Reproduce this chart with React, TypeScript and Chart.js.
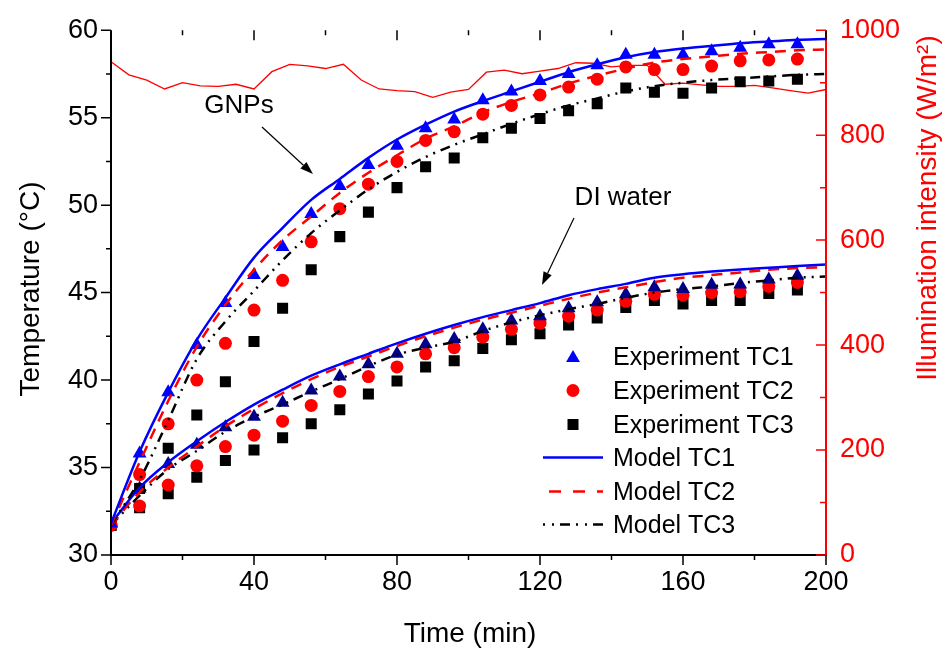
import React, { useEffect, useRef } from 'react';
import { Chart, registerables } from 'chart.js';
Chart.register(...registerables);

const FONT = "'Liberation Sans', Arial, Helvetica, sans-serif";

// ---------- data ----------
const timeExp = [0, 8, 16, 24, 32, 40, 48, 56, 64, 72, 80, 88, 96, 104, 112, 120, 128, 136, 144, 152, 160, 168, 176, 184, 192];

const gnpExpTC1 = [31.8, 35.8, 39.3, 42.0, 44.4, 46.0, 47.6, 49.5, 51.1, 52.3, 53.4, 54.4, 54.9, 56.0, 56.5, 57.1, 57.5, 58.0, 58.6, 58.6, 58.6, 58.8, 59.0, 59.2, 59.2];
const gnpExpTC2 = [31.7, 34.6, 37.5, 40.0, 42.1, 44.0, 45.7, 47.9, 49.8, 51.2, 52.5, 53.7, 54.2, 55.2, 55.7, 56.3, 56.75, 57.2, 57.9, 57.75, 57.75, 57.95, 58.25, 58.3, 58.35];
const gnpExpTC3 = [31.7, 33.8, 36.1, 38.0, 39.9, 42.2, 44.1, 46.3, 48.2, 49.6, 51.0, 52.2, 52.7, 53.85, 54.4, 54.95, 55.4, 55.8, 56.7, 56.45, 56.4, 56.7, 57.05, 57.1, 57.2];

const diExpTC1 = [31.8, 33.8, 35.2, 36.3, 37.3, 37.9, 38.7, 39.4, 40.2, 40.9, 41.5, 42.05, 42.35, 42.9, 43.4, 43.65, 44.1, 44.45, 44.9, 45.3, 45.2, 45.45, 45.47, 45.75, 45.97];
const diExpTC2 = [31.7, 32.8, 34.0, 35.1, 36.2, 36.85, 37.65, 38.55, 39.35, 40.2, 40.75, 41.5, 41.85, 42.45, 42.9, 43.25, 43.65, 44.0, 44.5, 44.9, 44.85, 45.0, 45.05, 45.35, 45.58];
const diExpTC3 = [31.7, 32.7, 33.5, 34.45, 35.4, 36.0, 36.7, 37.5, 38.3, 39.2, 39.95, 40.75, 41.1, 41.8, 42.3, 42.65, 43.15, 43.55, 44.15, 44.55, 44.35, 44.55, 44.55, 44.95, 45.15];

const timeModel = [0, 8, 16, 24, 32, 40, 48, 56, 64, 72, 80, 88, 96, 104, 112, 120, 128, 136, 144, 152, 160, 168, 176, 184, 192, 200];

const gnpModelTC1 = [31.8, 35.9, 39.3, 42.3, 44.7, 47.0, 48.7, 50.3, 51.5, 52.7, 53.75, 54.6, 55.35, 55.95, 56.5, 57.05, 57.6, 58.05, 58.45, 58.75, 58.95, 59.1, 59.25, 59.35, 59.45, 59.5];
const gnpModelTC2 = [31.7, 35.3, 38.8, 41.9, 44.3, 46.3, 48.0, 49.35, 50.7, 51.85, 52.85, 53.8, 54.5, 55.3, 55.9, 56.4, 56.95, 57.4, 57.8, 58.15, 58.35, 58.5, 58.65, 58.75, 58.85, 58.9];
const gnpModelTC3 = [31.7, 34.3, 37.7, 41.2, 43.35, 45.1, 46.85, 48.4, 49.7, 50.9, 51.9, 52.75, 53.45, 54.05, 54.65, 55.2, 55.7, 56.1, 56.5, 56.8, 57.0, 57.15, 57.25, 57.35, 57.45, 57.5];

const diModelTC1 = [31.8, 33.85, 35.3, 36.5, 37.6, 38.6, 39.45, 40.25, 40.9, 41.5, 42.1, 42.65, 43.15, 43.6, 44.0, 44.4, 44.85, 45.2, 45.5, 45.85, 46.05, 46.2, 46.32, 46.42, 46.52, 46.6];
const diModelTC2 = [31.7, 33.6, 35.0, 36.2, 37.35, 38.35, 39.25, 40.05, 40.75, 41.35, 41.95, 42.5, 43.0, 43.45, 43.85, 44.25, 44.65, 45.0, 45.3, 45.6, 45.85, 46.0, 46.15, 46.3, 46.4, 46.45];
const diModelTC3 = [31.7, 33.4, 34.9, 35.95, 37.05, 37.9, 38.6, 39.35, 40.05, 40.8, 41.45, 41.85, 42.2, 42.8, 43.3, 43.7, 44.05, 44.35, 44.7, 45.0, 45.2, 45.35, 45.55, 45.7, 45.85, 45.92];

const timeIllum = [0, 5, 10, 15, 20, 25, 30, 35, 40, 45, 50, 55, 60, 65, 70, 75, 80, 85, 90, 95, 100, 105, 110, 115, 120, 125, 130, 135, 140, 145, 150, 155, 160, 165, 170, 175, 180, 185, 190, 195, 200];
const illumination = [940, 915, 905, 888, 900, 894, 893, 897, 888, 921, 935, 932, 927, 935, 905, 888, 885, 883, 872, 882, 887, 920, 924, 917, 922, 927, 938, 937, 930, 933, 933, 897, 899, 896, 893, 893, 895, 890, 885, 880, 887];

const xTickValues = [0, 40, 80, 120, 160, 200];
const yTickValues = [30, 35, 40, 45, 50, 55, 60];
const y2TickValues = [0, 200, 400, 600, 800, 1000];

const legendLabels = ['Experiment TC1', 'Experiment TC2', 'Experiment TC3', 'Model TC1', 'Model TC2', 'Model TC3'];

const BLUE = '#0000ff';
const NAVY = '#00008b';
const RED = '#ff0000';
const BLACK = '#000000';
const DASH = [11, 8];
const DASHDOT = [10, 6, 2, 6, 2, 6];

function pts(xs: number[], ys: number[]) {
  return xs.map((x, i) => ({ x, y: ys[i] }));
}

function drawTri(ctx: CanvasRenderingContext2D, x: number, y: number, r: number) {
  ctx.beginPath();
  ctx.moveTo(x, y - r);
  ctx.lineTo(x + r * 0.866, y + r * 0.5);
  ctx.lineTo(x - r * 0.866, y + r * 0.5);
  ctx.closePath();
  ctx.fill();
}

function arrow(ctx: CanvasRenderingContext2D, x1: number, y1: number, x2: number, y2: number) {
  ctx.save();
  ctx.strokeStyle = BLACK;
  ctx.fillStyle = BLACK;
  ctx.lineWidth = 1.2;
  const ang = Math.atan2(y2 - y1, x2 - x1);
  const L = 13, W = 4.5;
  const bx = x2 - L * Math.cos(ang), by = y2 - L * Math.sin(ang);
  ctx.beginPath();
  ctx.moveTo(x1, y1);
  ctx.lineTo(bx, by);
  ctx.stroke();
  ctx.beginPath();
  ctx.moveTo(x2, y2);
  ctx.lineTo(bx + W * Math.sin(ang), by - W * Math.cos(ang));
  ctx.lineTo(bx - W * Math.sin(ang), by + W * Math.cos(ang));
  ctx.closePath();
  ctx.fill();
  ctx.restore();
}

const decor = {
  id: 'decor',
  afterDraw(chart: any) {
    const ctx: CanvasRenderingContext2D = chart.ctx;
    const { left, right, top, bottom } = chart.chartArea;
    const sx = chart.scales.x, sy = chart.scales.y, sy2 = chart.scales.y2;
    ctx.save();
    ctx.lineCap = 'butt';
    // axis lines
    ctx.lineWidth = 2;
    ctx.strokeStyle = BLACK;
    ctx.beginPath();
    ctx.moveTo(left, top);
    ctx.lineTo(left, bottom + 1);
    ctx.moveTo(left - 1, bottom);
    ctx.lineTo(right, bottom);
    ctx.stroke();
    ctx.strokeStyle = RED;
    ctx.beginPath();
    ctx.moveTo(right, top);
    ctx.lineTo(right, bottom + 1);
    ctx.stroke();

    // x ticks (bottom outward, top inward)
    ctx.strokeStyle = BLACK;
    ctx.lineWidth = 1.5;
    ctx.beginPath();
    for (let v = 0; v <= 200; v += 20) {
      const px = sx.getPixelForValue(v);
      const len = v % 40 === 0 ? 10 : 5;
      ctx.moveTo(px, bottom);
      ctx.lineTo(px, bottom + len);
      ctx.moveTo(px, top);
      ctx.lineTo(px, top + len);
    }
    // left y ticks outward
    for (let v = 30; v <= 60; v += 2.5) {
      const py = sy.getPixelForValue(v);
      const len = v % 5 === 0 ? 10 : 5;
      ctx.moveTo(left, py);
      ctx.lineTo(left - len, py);
    }
    ctx.stroke();
    // right y ticks inward (red)
    ctx.strokeStyle = RED;
    ctx.beginPath();
    for (let v = 0; v <= 1000; v += 100) {
      const py = sy2.getPixelForValue(v);
      const len = v % 200 === 0 ? 10 : 6;
      ctx.moveTo(right, py);
      ctx.lineTo(right - len, py);
    }
    ctx.stroke();

    // axis titles
    ctx.fillStyle = BLACK;
    ctx.font = `28px ${FONT}`;
    ctx.textAlign = 'center';
    ctx.textBaseline = 'middle';
    ctx.fillText('Time (min)', 470, 634);
    ctx.save();
    ctx.translate(31, 289);
    ctx.rotate(-Math.PI / 2);
    ctx.fillText('Temperature (\u00b0C)', 0, 0);
    ctx.restore();
    ctx.save();
    ctx.fillStyle = RED;
    ctx.translate(928, 208);
    ctx.rotate(-Math.PI / 2);
    ctx.fillText('Illumination intensity (W/m\u00b2)', 0, 0);
    ctx.restore();

    // annotations
    ctx.font = `26px ${FONT}`;
    ctx.fillStyle = BLACK;
    ctx.fillText('GNPs', 239, 106);
    ctx.fillText('DI water', 623, 198);
    arrow(ctx, 262, 127, 313, 174);
    arrow(ctx, 574, 218, 542, 285);

    // legend
    const rows = [356, 390.5, 424.5, 457.5, 491.5, 524.5];
    const mx = 573;
    ctx.font = `25px ${FONT}`;
    ctx.textAlign = 'left';
    ctx.textBaseline = 'middle';
    rows.forEach((ry, i) => {
      ctx.save();
      if (i === 0) { ctx.fillStyle = BLUE; drawTri(ctx, mx, ry + 2, 8); }
      if (i === 1) { ctx.fillStyle = RED; ctx.beginPath(); ctx.arc(mx, ry, 6.5, 0, Math.PI * 2); ctx.fill(); }
      if (i === 2) { ctx.fillStyle = BLACK; ctx.fillRect(mx - 5.5, ry - 5.5, 11, 11); }
      if (i >= 3) {
        ctx.lineWidth = 2.5;
        ctx.strokeStyle = i === 3 ? BLUE : i === 4 ? RED : BLACK;
        ctx.setLineDash(i === 3 ? [] : i === 4 ? [12, 12] : [2, 7, 2, 6, 10, 6]);
        ctx.lineDashOffset = i === 4 ? -6 : 0;
        ctx.beginPath();
        ctx.moveTo(543, ry);
        ctx.lineTo(603, ry);
        ctx.stroke();
      }
      ctx.restore();
      ctx.fillStyle = BLACK;
      ctx.fillText(legendLabels[i], 613, ry + 2);
    });
    ctx.restore();
  },
};

export default function App() {
  const ref = useRef<HTMLCanvasElement>(null);
  useEffect(() => {
    const canvas = ref.current!;
    const scatter = (label: string, xs: number[], ys: number[], color: string, style: string, r: number) => ({
      type: 'line' as const,
      label,
      data: pts(xs, ys),
      showLine: false,
      pointStyle: style,
      pointRadius: r,
      pointBackgroundColor: color,
      pointBorderColor: color,
      pointBorderWidth: 0,
      borderColor: color,
      backgroundColor: color,
      yAxisID: 'y',
      order: 2,
    });
    const model = (label: string, xs: number[], ys: number[], color: string, dash: number[]) => ({
      type: 'line' as const,
      label,
      data: pts(xs, ys),
      borderColor: color,
      borderWidth: 2.5,
      borderDash: dash,
      pointRadius: 0,
      fill: false,
      cubicInterpolationMode: 'monotone' as const,
      yAxisID: 'y',
      order: 1,
    });
    const chart = new Chart(canvas, {
      type: 'line',
      data: {
        datasets: [
          model('Model TC1 (GNPs)', timeModel, gnpModelTC1, BLUE, []),
          model('Model TC2 (GNPs)', timeModel, gnpModelTC2, RED, DASH),
          model('Model TC3 (GNPs)', timeModel, gnpModelTC3, BLACK, DASHDOT),
          model('Model TC1 (DI)', timeModel, diModelTC1, BLUE, []),
          model('Model TC2 (DI)', timeModel, diModelTC2, RED, DASH),
          model('Model TC3 (DI)', timeModel, diModelTC3, BLACK, DASHDOT),
          scatter('Experiment TC1 (GNPs)', timeExp, gnpExpTC1, BLUE, 'triangle', 8),
          scatter('Experiment TC2 (GNPs)', timeExp, gnpExpTC2, RED, 'circle', 6.5),
          scatter('Experiment TC3 (GNPs)', timeExp, gnpExpTC3, BLACK, 'rect', 7.8),
          scatter('Experiment TC1 (DI)', timeExp, diExpTC1, NAVY, 'triangle', 8),
          scatter('Experiment TC2 (DI)', timeExp, diExpTC2, RED, 'circle', 6.5),
          scatter('Experiment TC3 (DI)', timeExp, diExpTC3, BLACK, 'rect', 7.8),
          {
            type: 'line' as const,
            label: 'Illumination intensity',
            data: pts(timeIllum, illumination),
            borderColor: RED,
            borderWidth: 1.3,
            pointRadius: 0,
            tension: 0,
            yAxisID: 'y2',
            order: 3,
          },
        ],
      },
      options: {
        animation: false,
        responsive: true,
        maintainAspectRatio: false,
        devicePixelRatio: 1,
        layout: { padding: { left: 0, right: 0, top: 23, bottom: 0 } },
        plugins: { legend: { display: false }, tooltip: { enabled: false } },
        scales: {
          x: {
            type: 'linear',
            min: 0,
            max: 200,
            afterFit: (s: any) => { s.height = 107; },
            afterBuildTicks: (s: any) => { s.ticks = xTickValues.map((v) => ({ value: v })); },
            grid: { display: false, drawTicks: false },
            border: { display: false },
            ticks: { color: BLACK, font: { family: FONT, size: 27 }, padding: 11, maxRotation: 0, callback: (v: any) => String(v) },
          },
          y: {
            type: 'linear',
            position: 'left',
            min: 30,
            max: 60,
            afterFit: (s: any) => { s.width = 111; },
            afterBuildTicks: (s: any) => { s.ticks = yTickValues.map((v) => ({ value: v })); },
            grid: { display: false, drawTicks: false },
            border: { display: false },
            ticks: { color: BLACK, font: { family: FONT, size: 27 }, padding: 13, callback: (v: any) => String(v) },
          },
          y2: {
            type: 'linear',
            position: 'right',
            min: 0,
            max: 1000,
            afterFit: (s: any) => { s.width = 122; },
            afterBuildTicks: (s: any) => { s.ticks = y2TickValues.map((v) => ({ value: v })); },
            grid: { display: false, drawTicks: false },
            border: { display: false },
            ticks: { color: RED, font: { family: FONT, size: 27 }, padding: 14, callback: (v: any) => String(v) },
          },
        },
      },
      plugins: [decor],
    } as any);
    return () => chart.destroy();
  }, []);
  return (
    <div style={{ position: 'absolute', left: 0, top: 0, width: 948, height: 662, background: '#fff' }}>
      <canvas ref={ref} />
    </div>
  );
}
